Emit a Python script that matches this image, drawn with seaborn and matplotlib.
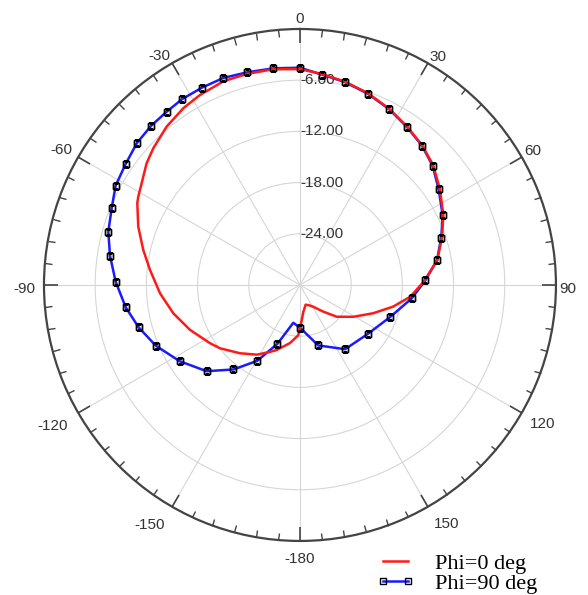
import numpy as np
import pandas as pd
import matplotlib
matplotlib.use("Agg")
import matplotlib.pyplot as plt
import seaborn as sns

# angles in degrees (clockwise from top), gain in dB
red_theta = [0, 6, 12.5, 19.5, 26.8, 34.2, 41.2, 48, 55.4, 64, 71.5, 79.8, 88.5,
             96.1, 103.1, 111.1, 120.7, 130.8, 138.9, 148.5, 156, 164, 173, 177,
             180, 182, 189.7, 199.7, 204.2, 211.7, 215.9, 221.3, 231.6, 237.1,
             247.8, 257.4, 266.6, 275.7, 282.6, 289.8, 296.7, 298.6, 302.7, 308.4,
             313, 319.9, 326.6, 332.2, 339.4, 345.8, 352.8, 360]
red_db = [-4.7, -5.15, -5.6, -6.15, -6.85, -7.6, -8.25, -9.0, -10.1, -11.3, -12.45,
          -13.65, -15.5, -17.0, -18.8, -20.8, -22.7, -24.3, -25.85, -27.0, -27.4,
          -27.6, -26.8, -25.9, -25.0, -24.1, -23.1, -21.9, -21.4, -20.4, -20.0,
          -19.35, -18.05, -17.44, -16.08, -14.79, -13.57, -12.34, -11.18, -9.86,
          -8.66, -8.41, -7.95, -7.06, -6.5, -5.74, -5.18, -4.84, -4.5, -4.5, -4.52,
          -4.7]

blue_theta = [0, 6.05, 12.5, 19.5, 26.8, 34.2, 41.2, 48.0, 55.4, 64.0, 71.5, 79.8,
              87.9, 96.8, 109.7, 125.9, 144.9, 163.2, 180, 190, 201, 209.4, 218.2,
              227.3, 237.7, 247.2, 255.3, 262.7, 271.0, 278.7, 285.5, 292.2, 298.3,
              304.8, 311.1, 317.0, 322.4, 327.7, 333.6, 339.7, 346.1, 353.0, 360]
blue_db = [-4.54, -5.22, -5.64, -6.22, -6.89, -7.65, -8.30, -9.09, -10.25, -11.39,
           -12.54, -13.69, -15.3, -16.8, -18.8, -20.2, -20.8, -22.6, -25.0, -25.5,
           -22.6, -19.8, -17.4, -15.1, -13.3, -11.66, -10.45, -9.41, -8.40, -7.48,
           -6.69, -6.17, -5.46, -5.13, -4.66, -4.46, -4.38, -4.21, -4.18, -4.13,
           -4.32, -4.42, -4.54]
# every blue sample carries a square marker except the small peak near 190 deg
blue_marker_idx = [i for i in range(len(blue_theta) - 1) if blue_theta[i] != 190]

theta_ticks = list(range(0, 360, 30))
theta_labels = ["0", "30", "60", "90", "120", "150", "-180", "-150", "-120",
                "-90", "-60", "-30"]
r_ticks = [-24, -18, -12, -6]
r_labels = ["-24.00", "-18.00", "-12.00", "-6.00"]

# pixel gap between outer circle and the nearest corner of each angle label
label_gap = [5.5, 2.5, 3, 3.5, 9, 12.5, 11.5, 13.5, 11.5, 9, 6.5, 3.5]
LABEL_PT = 11

plt.rcParams["font.family"] = ["Liberation Sans", "DejaVu Sans"]

red = pd.DataFrame({"theta": np.deg2rad(red_theta), "db": red_db})
blue = pd.DataFrame({"theta": np.deg2rad(blue_theta), "db": blue_db})

fig = plt.figure(figsize=(5.88, 5.95), dpi=100)
ax = fig.add_axes([0.0748, 0.0908, 0.8707, 0.8605], projection="polar")
ax.set_theta_zero_location("N")
ax.set_theta_direction(-1)

sns.lineplot(data=blue, x="theta", y="db", ax=ax, sort=False, estimator=None,
             color="#1a1aff", lw=1.8, marker="s", markevery=blue_marker_idx,
             ms=5, mfc="none", mec="black", mew=1.0, label="Phi=90 deg", zorder=3)
sns.lineplot(data=red, x="theta", y="db", ax=ax, sort=False, estimator=None,
             color="#ff1a1a", lw=1.8, label="Phi=0 deg", zorder=4)
# markers again on top of the red trace
sns.lineplot(data=blue.iloc[blue_marker_idx], x="theta", y="db", ax=ax, sort=False,
             estimator=None, lw=0, marker="s", ms=5, mfc="none", mec="black",
             mew=1.0, zorder=5)

ax.set_ylim(-30, 0)
ax.set_xlabel("")
ax.set_ylabel("")
ax.set_xticks(np.deg2rad(theta_ticks))
ax.set_xticklabels([])
ax.set_xticks(np.deg2rad(np.arange(0, 360, 5)), minor=True)
ax.set_yticks(r_ticks)
ax.set_yticklabels([])
ax.grid(True, which="major", color="#d6d6d6", lw=0.8)
ax.grid(False, which="minor")
# theta tick marks sit on the outer circle (tick2), pointing inwards
ax.tick_params(axis="x", which="both", top=True, bottom=False, direction="in",
               color="#444444")
ax.tick_params(axis="x", which="major", length=10, width=1.2)
ax.tick_params(axis="x", which="minor", length=5, width=1.0)
ax.spines["polar"].set_color("#444444")
ax.spines["polar"].set_linewidth(1.6)

# angle labels: the corner nearest the circle sits on the tick's ray
for t, lab, gap in zip(theta_ticks, theta_labels, label_gap):
    s, c = np.sin(np.deg2rad(t)), np.cos(np.deg2rad(t))
    ha = "left" if s > 0.3 else ("right" if s < -0.3 else "center")
    if c > 0.3:
        va, dy = "baseline", 0
    elif c < -0.3:
        va, dy = "top", 0
    else:
        va, dy = "center_baseline", -3
    ax.annotate(lab, xy=(np.deg2rad(t), 0), xytext=(gap * s, gap * c + dy),
                textcoords="offset pixels", ha=ha, va=va, fontsize=LABEL_PT,
                color="#333333", annotation_clip=False)

for r, lab in zip(r_ticks, r_labels):
    ax.text(0, r, lab, ha="left", va="center", fontsize=LABEL_PT, color="#333333",
            zorder=2.6)

handles, labels = ax.get_legend_handles_labels()
order = [labels.index("Phi=0 deg"), labels.index("Phi=90 deg")]
ax.legend([handles[i] for i in order], [labels[i] for i in order],
          loc="upper left", bbox_to_anchor=(376 / 588, 1 - 553 / 595),
          bbox_transform=fig.transFigure, frameon=False,
          prop={"family": "Liberation Serif", "size": 16}, handlelength=1.75,
          handletextpad=0.9, labelspacing=-0.02, borderpad=0, borderaxespad=0,
          numpoints=2)

fig.savefig("out.png", dpi=100)
